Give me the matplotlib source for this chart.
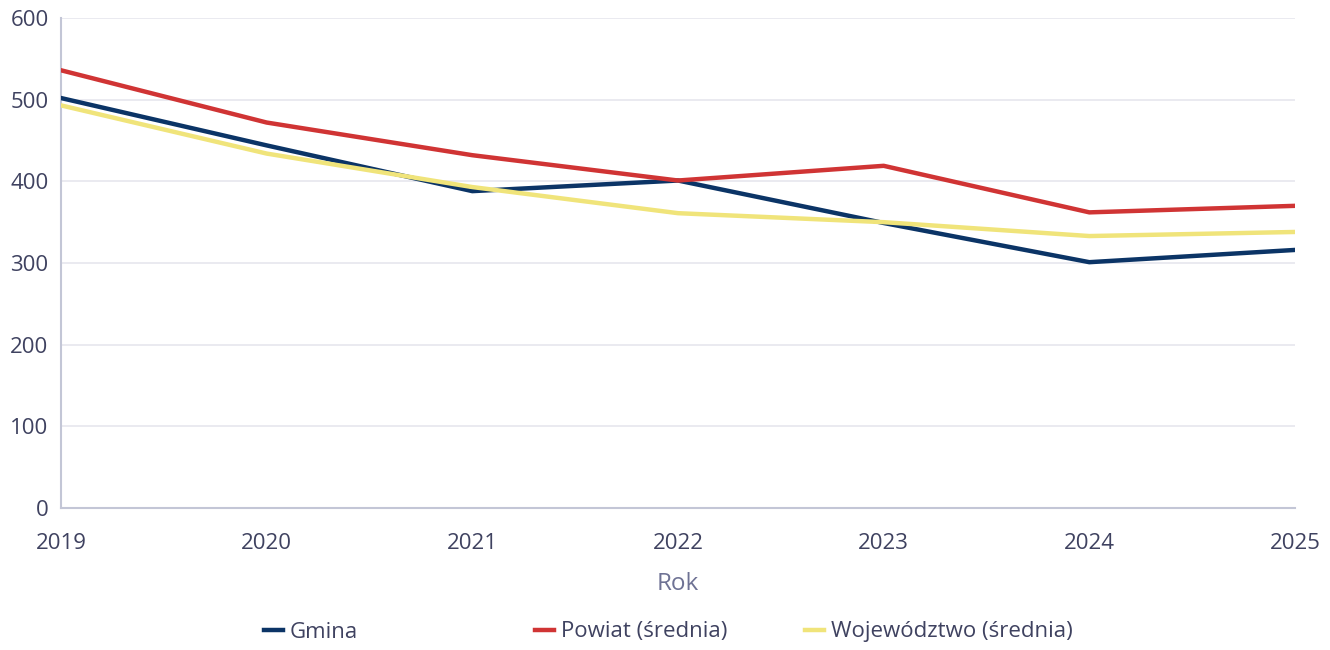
import matplotlib.pyplot as plt
from matplotlib.lines import Line2D

plt.rcParams['font.family'] = ['Open Sans', 'DejaVu Sans']

years = [2019, 2020, 2021, 2022, 2023, 2024, 2025]
gmina = [502, 444, 388, 401, 349, 301, 316]
powiat = [536, 472, 432, 401, 419, 362, 370]
wojewodztwo = [493, 434, 393, 361, 350, 333, 338]

labels = ['Gmina', 'Powiat (średnia)', 'Województwo (średnia)']
colors = ['#0b3466', '#d03434', '#f0e47a']
text_color = '#3f4260'

fig = plt.figure(figsize=(13.3, 6.5), dpi=100)
ax = fig.add_axes([61 / 1330, 1 - 508 / 650, (1295 - 61) / 1330, (508 - 18) / 650])

for series, color in zip([gmina, powiat, wojewodztwo], colors):
    ax.plot(years, series, color=color, linewidth=3.2, zorder=3)

ax.set_xlim(2019, 2025)
ax.set_ylim(0, 600)
ax.set_xticks(years)
ax.set_yticks(range(0, 601, 100))
ax.grid(axis='y', color='#e6e6ee', linewidth=1.2)
ax.set_axisbelow(True)
for side in ['top', 'right']:
    ax.spines[side].set_visible(False)
for side in ['left', 'bottom']:
    ax.spines[side].set_color('#c3c6d6')
    ax.spines[side].set_linewidth(1.5)
ax.tick_params(length=0, labelsize=16, colors=text_color)
ax.tick_params(axis='x', pad=18)
ax.tick_params(axis='y', pad=9)
ax.set_xlabel('Rok', fontsize=17.5, color='#6e7294', labelpad=13)

legend_x = [264 / 1330, 535 / 1330, 805 / 1330]
for label, color, lx in zip(labels, colors, legend_x):
    handle = Line2D([], [], color=color, linewidth=3.2)
    fig.legend([handle], [label], loc='center left', bbox_to_anchor=(lx, 1 - 632 / 650),
               frameon=False, fontsize=16, handlelength=0.85, handletextpad=0.3,
               labelcolor=text_color, borderaxespad=0, borderpad=0)

fig.savefig('out.png', dpi=100)
